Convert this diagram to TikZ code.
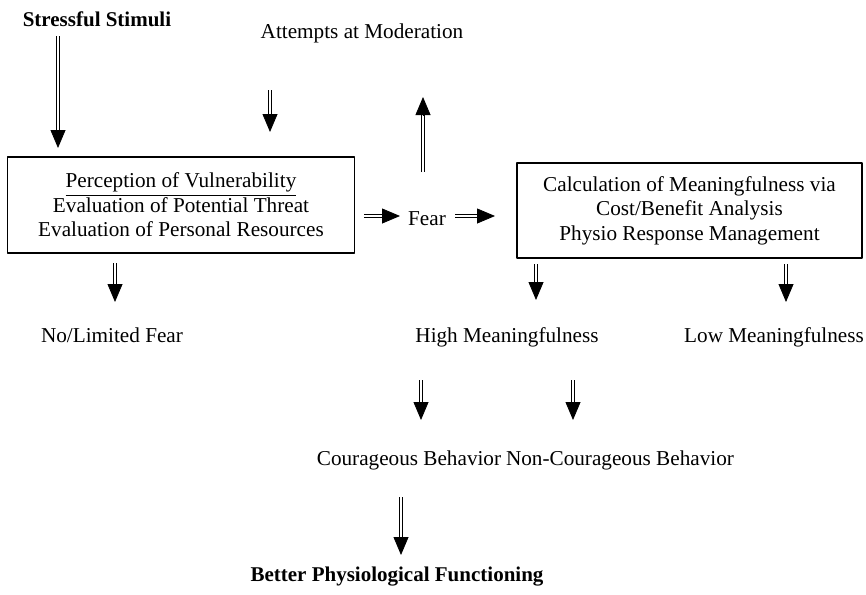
\documentclass[tikz,border=0pt]{standalone}
\usepackage{fontspec}
\setmainfont{Liberation Serif}
\usetikzlibrary{calc,arrows.meta}

\newcommand{\darrow}[2]{%
    \draw[shaft] (#1) -- ($(#2)!7pt!(#1)$);
    \draw[tip] ($(#2)!9pt!(#1)$) -- (#2);}

\begin{document}
\begin{tikzpicture}[x=0.5pt,y=-0.5pt,join=round,
    lbl/.style={inner sep=0pt,font=\fontsize{10.6}{12.2}\selectfont},
    bf/.style={lbl,font=\fontsize{10.5}{12.2}\selectfont\bfseries},
    bx/.style={lbl,draw,line width=0.6pt,align=center},
    shaft/.style={double,double distance=1.4pt,line width=0.45pt},
    tip/.style={line width=0.4pt,-{Triangle[length=9pt,width=7.5pt]}}]
    \useasboundingbox (0,0) rectangle (866,594);
    % labels and boxes
    \node[bf] (stim) at (97,19) {Stressful Stimuli};
    \node[lbl] (moder) at (362,33) {Attempts at Moderation};
    \node[bx,minimum width=347*0.5pt,minimum height=96*0.5pt] (perc) at (181,205)
        {\underline{Perception of Vulnerability}\\Evaluation of Potential Threat\\Evaluation of Personal Resources};
    \node[lbl] (fear) at (427,219) {Fear};
    \node[bx,minimum width=345*0.5pt,minimum height=95*0.5pt] (calc) at (689.5,210.5)
        {Calculation of Meaningfulness via\\Cost/Benefit Analysis\\Physio Response Management};
    \node[lbl] (nolim) at (112,335) {No/Limited Fear};
    \node[lbl] (high) at (507,337) {High Meaningfulness};
    \node[lbl] (low) at (774,337) {Low Meaningfulness};
    \node[lbl] (cour) at (409,460) {Courageous Behavior};
    \node[lbl] (noncour) at (620,460) {Non-Courageous Behavior};
    \node[bf] (better) at (397,577) {Better Physiological Functioning};
    % arrow ends
    \coordinate (a1) at (58,36);   \coordinate (b1) at (58,148);
    \coordinate (a2) at (270,90);  \coordinate (b2) at (270,132);
    \coordinate (a3) at (423,172); \coordinate (b3) at (423,97);
    \coordinate (a4) at (364,216); \coordinate (b4) at (400,216);
    \coordinate (a5) at (455,216); \coordinate (b5) at (495,216);
    \coordinate (a6) at (115,263); \coordinate (b6) at (115,302);
    \coordinate (a7) at (536,264); \coordinate (b7) at (536,300);
    \coordinate (a8) at (786,264); \coordinate (b8) at (786,302);
    \coordinate (a9) at (421,380); \coordinate (b9) at (421,420);
    \coordinate (a10) at (573,380); \coordinate (b10) at (573,420);
    \coordinate (a11) at (401,497); \coordinate (b11) at (401,555);
    \foreach \i in {1,...,11}
        {\darrow{a\i}{b\i}}
\end{tikzpicture}
\end{document}
